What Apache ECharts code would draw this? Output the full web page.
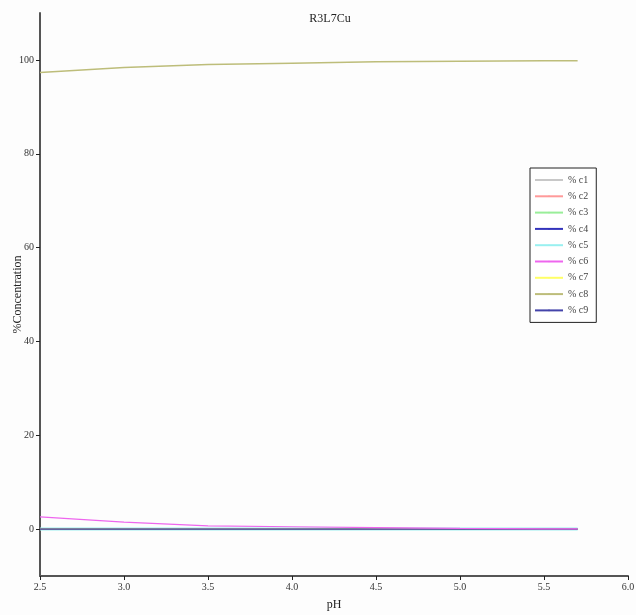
<!DOCTYPE html>
<html>
<head>
<meta charset="utf-8">
<script src="https://cdn.jsdelivr.net/npm/echarts@6/dist/echarts.min.js"></script>
<style>html,body{margin:0;padding:0;background:#fdfdfd;}#c{width:636px;height:615px;}</style>
</head>
<body>
<div id="c"></div>
<script>
var pH = [2.5, 3.0, 3.5, 4.0, 4.5, 5.0, 5.5, 5.7];
var c1 = [0, 0, 0, 0, 0, 0, 0, 0];
var c2 = [0, 0, 0, 0, 0, 0, 0, 0];
var c3 = [0, 0, 0, 0, 0, 0, 0, 0];
var c4 = [0, 0, 0, 0, 0, 0, 0, 0];
var c5 = [0, 0, 0, 0, 0, 0, 0, 0];
var c6 = [2.6, 1.5, 0.7, 0.5, 0.3, 0.15, 0.05, 0.03];
var c7 = [0, 0, 0, 0, 0, 0, 0, 0];
var c8 = [97.3, 98.4, 99.0, 99.3, 99.6, 99.7, 99.8, 99.8];
var c9 = [0, 0, 0, 0, 0, 0, 0, 0];
var xTicks = [2.5, 3.0, 3.5, 4.0, 4.5, 5.0, 5.5, 6.0];
var yTicks = [0, 20, 40, 60, 80, 100];

var names = ['% c1','% c2','% c3','% c4','% c5','% c6','% c7','% c8','% c9'];
var sets = [c1,c2,c3,c4,c5,c6,c7,c8,c9];
var colors = ['#c8c8c8','#ff9a9a','#99ee99','#3333bb','#99f0f0','#ee66ee','#ffff66','#bdbd7a','#4444aa'];
var widths = [1,1,1,1,3,1.2,1,1.5,1.2];
var zs = [2,3,4,5,1,9,6,8,7];
var font = 'Liberation Serif';

var series = names.map(function(n,i){
  return {
    name: n, type: 'line', symbol: 'none',
    data: pH.map(function(x,k){return [x, sets[i][k]];}),
    lineStyle: {color: colors[i], width: widths[i]},
    itemStyle: {color: colors[i]},
    z: zs[i]
  };
});

var chart = echarts.init(document.getElementById('c'));
chart.setOption({
  backgroundColor: '#fdfdfd',
  animation: false,
  title: {text: 'R3L7Cu', left: 325, top: 8, textAlign: 'center',
    textStyle: {fontFamily: font, fontSize: 12, fontWeight: 'normal', color: '#222'}},
  grid: {left: 40, right: 8, top: 13, bottom: 39, containLabel: false, outerBoundsMode: 'none'},
  legend: {
    orient: 'vertical', left: 530, top: 168,
    backgroundColor: '#fff', borderColor: '#222', borderWidth: 1,
    padding: [7, 8, 7, 4], itemGap: 6.3, itemWidth: 28, itemHeight: 2,
    textStyle: {fontFamily: font, fontSize: 10, color: '#444'},
    data: names
  },
  xAxis: {
    type: 'value', min: 2.5, max: 6.0, interval: 0.5,
    name: 'pH', nameLocation: 'middle', nameGap: 23, nameMoveOverlap: false,
    nameTextStyle: {fontFamily: font, fontSize: 12, color: '#222'},
    axisLine: {show: true, onZero: false, lineStyle: {color: '#555', width: 2}},
    axisTick: {show: true, length: 4, lineStyle: {color: '#222', width: 1}},
    axisLabel: {fontFamily: font, fontSize: 10, color: '#333', margin: 6,
      formatter: function(v){return v.toFixed(1);}, customValues: xTicks},
    splitLine: {show: false}
  },
  yAxis: {
    type: 'value', min: -10, max: 110,
    name: '%Concentration', nameLocation: 'middle', nameGap: 16, nameRotate: 90, nameMoveOverlap: false,
    nameTextStyle: {fontFamily: font, fontSize: 12, color: '#222'},
    axisLine: {show: true, onZero: false, lineStyle: {color: '#555', width: 2}},
    axisTick: {show: true, length: 4, customValues: yTicks, lineStyle: {color: '#222'}},
    axisLabel: {fontFamily: font, fontSize: 10, color: '#333', margin: 6, customValues: yTicks},
    splitLine: {show: false}
  },
  series: series
});
</script>
</body>
</html>
